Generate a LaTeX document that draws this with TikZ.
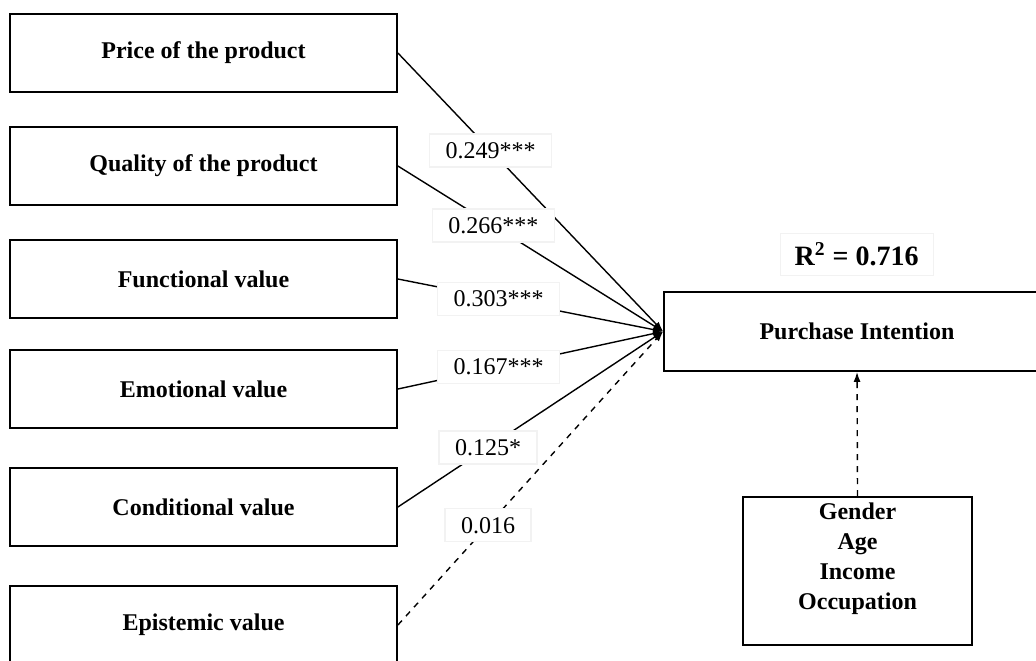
\documentclass[tikz,border=0pt]{standalone}
\usepackage{fontspec}
\setmainfont{Liberation Serif}
\usetikzlibrary{arrows.meta}

\begin{document}
\begin{tikzpicture}[x=0.5pt, y=-0.5pt,
    factor/.style={draw, line width=0.9pt, minimum width=193.5pt, minimum height=39pt,
      font=\fontsize{12}{14.75}\selectfont\bfseries},
    effect/.style={line width=0.7pt, -{Latex[length=5pt, width=3.5pt]}},
    coef/.style={fill=white, draw=black!5, solid, inner xsep=8pt, inner ysep=2pt,
      minimum height=16.5pt, font=\fontsize{12}{14}\selectfont}]
    % Diagram: six factors on the left, all pointing at purchase intention.
    % Coordinates in pixels of the 1036 x 660 frame, y downwards:
    %   factor boxes centred at x=203.5, width 387, height 78
    %   purchase intention at (857,331.5), control variables below it
    \clip (0,0) rectangle (1036,660);
    \node[factor] (price) at (203.5,53) {Price of the product};
    \node[factor] (quality) at (203.5,166) {Quality of the product};
    \node[factor] (functional) at (203.5,279) {Functional value};
    \node[factor] (emotional) at (203.5,389) {Emotional value};
    \node[factor] (conditional) at (203.5,507) {Conditional value};
    \node[factor] (epistemic) at (203.5,625) {Epistemic value};
    \node[factor, minimum width=193pt, minimum height=39.5pt] (intention) at (857,331.5)
          {Purchase Intention};
    \node[draw=black!5, minimum width=76.5pt, minimum height=21pt,
          font=\fontsize{14}{16}\selectfont\bfseries] (rsq) at (856.5,254)
          {R\textsuperscript{2} = 0.716};
    \node[draw, line width=0.9pt, minimum width=114.5pt, minimum height=74pt]
          (controls) at (857.5,571) {};
    \node[anchor=north, align=center, inner sep=3pt,
          font=\fontsize{12}{15.1}\selectfont\bfseries] (controllist) at (controls.north)
          {Gender\\ Age\\ Income\\ Occupation};
    % path coefficients
    \draw[effect] (price.east) -- (intention.west) node[coef, pos=0.35] {0.249***};
    \draw[effect] (quality.east) -- (intention.west) node[coef, pos=0.36] {0.266***};
    \draw[effect] (functional.east) -- (intention.west) node[coef, pos=0.38] {0.303***};
    \draw[effect] (emotional.east) -- (intention.west) node[coef, pos=0.38] {0.167***};
    \draw[effect] (conditional.east) -- (intention.west) node[coef, pos=0.34] {0.125*};
    \draw[effect, dashed] (epistemic.east) -- (intention.west) node[coef, pos=0.34] {0.016};
    \draw[effect, dashed] (controls.north) -- (intention.south);
\end{tikzpicture}
\end{document}
